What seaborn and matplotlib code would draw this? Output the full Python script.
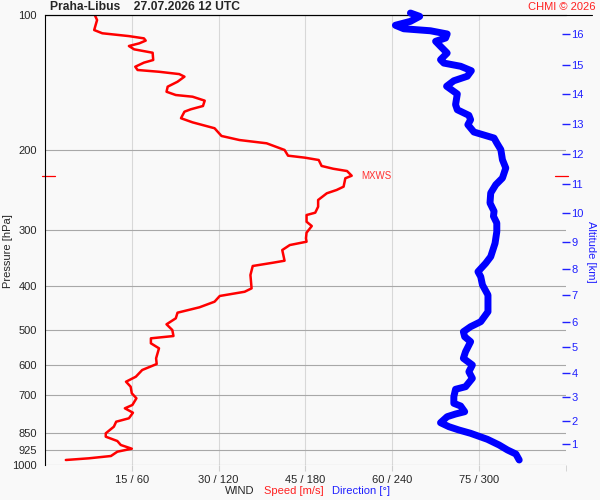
import numpy as np
import seaborn as sns
import matplotlib.pyplot as plt
from matplotlib.ticker import NullLocator, FixedLocator, FixedFormatter

# wind speed profile (pressure hPa, speed m/s)
speed_pres = [100, 102.6, 108, 109.8, 111.4, 112.7, 114.0, 115.6, 117.2, 119.2, 121.3, 125.9,
              127.6, 130.3, 132.5, 133.7, 135.3, 137.1, 140.7, 144.3, 148.1, 150.6, 151.9,
              155.0, 159.3, 162.0, 164.0, 169.6, 173.2, 178.5, 185.7, 189.6, 192.8, 199.5,
              205.4, 207.5, 210, 216.5, 219.6, 222.2, 227.6, 230.6, 240.7, 244.8, 249.0,
              257.7, 266.7, 275.0, 278.3, 288.0, 294.4, 304.6, 313.5, 319.0, 324.5, 332.9,
              351.6, 355.2, 361.2, 378.3, 405.0, 412.1, 421.1, 433.6, 446.2, 458.7, 472.1,
              486.8, 501.2, 516.9, 523.0, 536.5, 550.4, 579.3, 596.5, 615.0, 636.5, 653.0,
              669.9, 692.9, 710.8, 735.6, 748.2, 765.2, 787.4, 801.3, 822.0, 850.3, 865.2,
              884.5, 902.7, 920.0, 934.2, 955.0, 966.3, 974.7]
speed_ms = [8.6, 9.0, 8.5, 9.9, 14.5, 17.1, 17.4, 16.3, 14.5, 15.4, 18.6, 18.7,
            17.1, 15.6, 16.0, 19.7, 23.2, 24.1, 22.9, 21.2, 21.0, 22.6, 25.5,
            27.6, 27.3, 25.2, 24.1, 23.5, 25.5, 29.3, 30.5, 33.6, 38.3, 41.4,
            42.0, 44.9, 47.3, 47.8, 49.8, 52.2, 53.0, 51.9, 51.6, 50.4, 48.7,
            47.2, 47.2, 46.7, 45.2, 45.2, 46.1, 45.2, 45.1, 45.2, 42.3, 41.0,
            41.4, 39.4, 35.9, 35.5, 35.7, 34.5, 30.2, 29.3, 26.7, 22.9, 22.6,
            21.0, 22.0, 22.2, 18.3, 18.3, 19.7, 19.2, 19.3, 16.8, 15.7, 14.0,
            14.8, 15.0, 15.8, 15.1, 13.8, 15.2, 14.5, 12.3, 11.9, 10.5, 10.5,
            12.5, 13.1, 15.0, 12.5, 11.4, 7.6, 3.6]

# wind direction profile (pressure hPa, direction deg)
dir_pres = [99.0, 100.7, 103.3, 105.4, 107.3, 108.4, 110.2, 112.5, 114.4, 117.4, 121.5, 125.7,
            127.9, 130.0, 133.0, 136.8, 140.0, 144.0, 149.8, 158.2, 162.4, 167.1, 170.9,
            175.3, 182.0, 187.7, 192.5, 199.2, 209.7, 218.8, 230.3, 238.3, 248.6, 261.7,
            273.0, 280.1, 289.9, 303.1, 321.6, 344.4, 356.3, 371.9, 381.6, 398.1, 419.0,
            456.4, 480.3, 492.8, 505.6, 518.7, 532.1, 560.1, 579.3, 599.5, 620.5, 641.8,
            669.9, 678.8, 705.0, 729.3, 739.4, 761.3, 770.3, 781.0, 805.4, 822.0, 836.0,
            850.3, 876.8, 902.7, 926.1, 945.4, 974.7]
dir_deg = [252.6, 259, 252.6, 242.2, 248, 266.4, 278, 276.9, 270, 273.4, 278, 273.4,
           275.7, 287.3, 294.7, 291.9, 282.6, 277.6, 285, 283.8, 285, 293, 294.2,
           292.3, 296.5, 310.4, 312.3, 315.1, 316.2, 318.5, 316.2, 311.6, 308.1, 307.6,
           310.4, 310, 312.3, 312.3, 311.1, 308.1, 304.6, 299.3, 301.2, 302.4, 306.2,
           306.2, 301.2, 294.2, 289.2, 290.1, 294.2, 290.7, 289.2, 295.4, 293, 295.4,
           290.7, 283.8, 282.6, 282.6, 287.3, 290.1, 283.8, 278, 273.4, 279.2, 286.1,
           294.2, 305.8, 313.9, 319.7, 325.5, 327.8]

p_ticks = [100, 200, 300, 400, 500, 600, 700, 850, 925, 1000]
x_ticks = [15, 30, 45, 60, 75]
x_labels = ['15 / 60', '30 / 120', '45 / 180', '60 / 240', '75 / 300']
alt_km = [1, 2, 3, 4, 5, 6, 7, 8, 9, 10, 11, 12, 13, 14, 15, 16]
alt_pres = [900, 800, 707, 626, 548, 482, 420, 366, 320, 276, 237, 204, 175, 150, 129, 110.2]

sns.set_style('white')
plt.rcParams['font.family'] = ['Liberation Sans', 'DejaVu Sans']

bg = '#f9f9f9'
fig = plt.figure(figsize=(6, 5), dpi=100, facecolor=bg)
ax = fig.add_axes([0.075, 0.07, 0.868, 0.90], facecolor=bg)

# speed
sns.lineplot(x=speed_ms, y=speed_pres, sort=False, estimator=None, color='red', lw=1.8, ax=ax)
ax.set_yscale('log')
ax.set_ylim(1000, 100)
ax.set_xlim(0, 90)
ax.yaxis.set_major_locator(FixedLocator(p_ticks))
ax.yaxis.set_major_formatter(FixedFormatter([str(p) for p in p_ticks]))
ax.yaxis.set_minor_locator(NullLocator())
ax.set_xticks(x_ticks)
ax.set_xticklabels(x_labels)
ax.set_xticks([90], minor=True)
ax.tick_params(axis='x', which='both', length=4, color='#cfcfcf', pad=3, labelsize=8)
ax.tick_params(axis='y', length=0, pad=6, labelsize=8)
ax.grid(axis='x', color='#d8d8d8', lw=0.8)
ax.grid(axis='y', color='#a8a8a8', lw=0.8)
ax.set_xlabel('')
ax.set_ylabel('')
for s in ['right', 'bottom']:
    ax.spines[s].set_visible(False)
for s in ['left', 'top']:
    ax.spines[s].set_color('black')
    ax.spines[s].set_linewidth(0.8)
ax.axhline(100, xmin=0, xmax=1.05, color='black', lw=0.8, clip_on=False)

# max wind level
i_max = int(np.argmax(speed_ms))
p_max = speed_pres[i_max]
ax.axhline(p_max, xmin=-0.005, xmax=0.02, color='red', lw=0.9, clip_on=False)
ax.axhline(p_max, xmin=0.98, xmax=1.005, color='red', lw=0.9, clip_on=False)
ax.annotate('MXWS', (speed_ms[i_max], p_max), xytext=(7, 0), textcoords='offset points',
            color='#ff3030', fontsize=7, va='center')

# direction
ax_dir = ax.twiny()
sns.lineplot(x=dir_deg, y=dir_pres, sort=False, estimator=None, color='blue', lw=5, ax=ax_dir)
ax_dir.set_xlim(0, 360)
ax_dir.set_xticks([])
ax_dir.set_xlabel('')
ax_dir.set_ylabel('')
ax_dir.lines[0].set_clip_on(False)
for s in ax_dir.spines.values():
    s.set_visible(False)

# altitude axis
ax_alt = ax.twinx()
ax_alt.set_yscale('log')
ax_alt.set_ylim(1000, 100)
ax_alt.yaxis.set_major_locator(FixedLocator(alt_pres))
ax_alt.yaxis.set_major_formatter(FixedFormatter([str(a) for a in alt_km]))
ax_alt.yaxis.set_minor_locator(NullLocator())
ax_alt.tick_params(axis='y', direction='inout', length=6, width=1, color='#2020ff',
                   labelcolor='#2020ff', labelsize=8, pad=1)
for s in ax_alt.spines.values():
    s.set_visible(False)

# texts
fig.text(50 / 600, 1 - 7 / 500, 'Praha-Libus    27.07.2026 12 UTC', fontsize=8.7,
         fontweight='bold', va='center', ha='left')
fig.text(596 / 600, 1 - 7 / 500, 'CHMI © 2026', fontsize=8, color='#ff2020', va='center', ha='right')
fig.text(8 / 600, 1 - 251 / 500, 'Pressure [hPa]', rotation=90, fontsize=8, va='center', ha='center')
fig.text(591 / 600, 1 - 252 / 500, 'Altitude [km]', rotation=270, fontsize=8, color='#2020ff',
         va='center', ha='center')
fig.text(225 / 600, 1 - 491 / 500, 'WIND', fontsize=8, va='center')
fig.text(264 / 600, 1 - 491 / 500, 'Speed [m/s]', fontsize=8, color='#ff2020', va='center')
fig.text(332 / 600, 1 - 491 / 500, 'Direction [°]', fontsize=8, color='#2020ff', va='center')

fig.savefig('out.png', dpi=100, facecolor=bg)
